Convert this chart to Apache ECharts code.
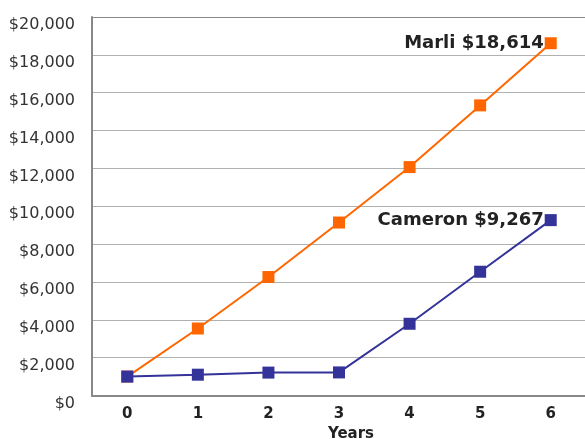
<!DOCTYPE html>
<html><head><meta charset="utf-8">
<script src="https://cdn.jsdelivr.net/npm/echarts@6/dist/echarts.min.js"></script>
<style>html,body{margin:0;padding:0;background:#fff}#c{width:585px;height:439px}</style>
</head><body><div id="c"></div>
<script>
var years = ['0','1','2','3','4','5','6'];
var marli = [1000, 3540, 6260, 9140, 12070, 15330, 18614];
var cameron = [1000, 1100, 1210, 1220, 3790, 6540, 9267];
var marliLabel = 'Marli $18,614';
var cameronLabel = 'Cameron $9,267';
var yMax = 20000, yStep = 2000;

function endLabel(text){
  return {show:true, position:'left', distance:1, formatter:function(p){return p.dataIndex===years.length-1?text:'';},
    fontFamily:'DejaVu Sans', fontWeight:'bold', fontSize:18, color:'#222'};
}
var gridColors = [];
for (var i=0;i<10;i++) gridColors.push('#b0b0b0');
gridColors.push('#888');

var chart = echarts.init(document.getElementById('c'), null, {renderer:'canvas'});
chart.setOption({
  animation:false,
  grid:{left:92, right:-1, top:17, bottom:43.5, containLabel:false, outerBoundsMode:'none'},
  xAxis:{type:'category', data:years, boundaryGap:true,
    name:'Years', nameLocation:'middle', nameGap:27,
    nameTextStyle:{fontFamily:'DejaVu Sans', fontWeight:'bold', fontSize:15, color:'#222', padding:[0,0,0,24]},
    axisLine:{lineStyle:{color:'#888', width:2}}, axisTick:{show:false},
    axisLabel:{fontFamily:'DejaVu Sans', fontWeight:'bold', fontSize:15, color:'#222', margin:11}},
  yAxis:{type:'value', min:0, max:yMax, interval:yStep,
    axisLine:{show:true, lineStyle:{color:'#888', width:2}}, axisTick:{show:false},
    splitLine:{lineStyle:{color:gridColors, width:1}},
    axisLabel:{fontFamily:'DejaVu Sans', fontSize:16, lineHeight:16, color:'#333', margin:17, verticalAlign:'top',
      formatter:function(v){return '$'+v.toLocaleString('en-US');}}},
  series:[
    {name:'Marli', type:'line', data:marli, symbol:'rect', symbolSize:12, color:'#FF6600',
      lineStyle:{width:2, color:'#FF6600'}, itemStyle:{color:'#FF6600'}, label:endLabel(marliLabel)},
    {name:'Cameron', type:'line', data:cameron, symbol:'rect', symbolSize:12, color:'#333399',
      lineStyle:{width:2, color:'#333399'}, itemStyle:{color:'#333399'}, label:endLabel(cameronLabel)}
  ]
});
</script></body></html>
